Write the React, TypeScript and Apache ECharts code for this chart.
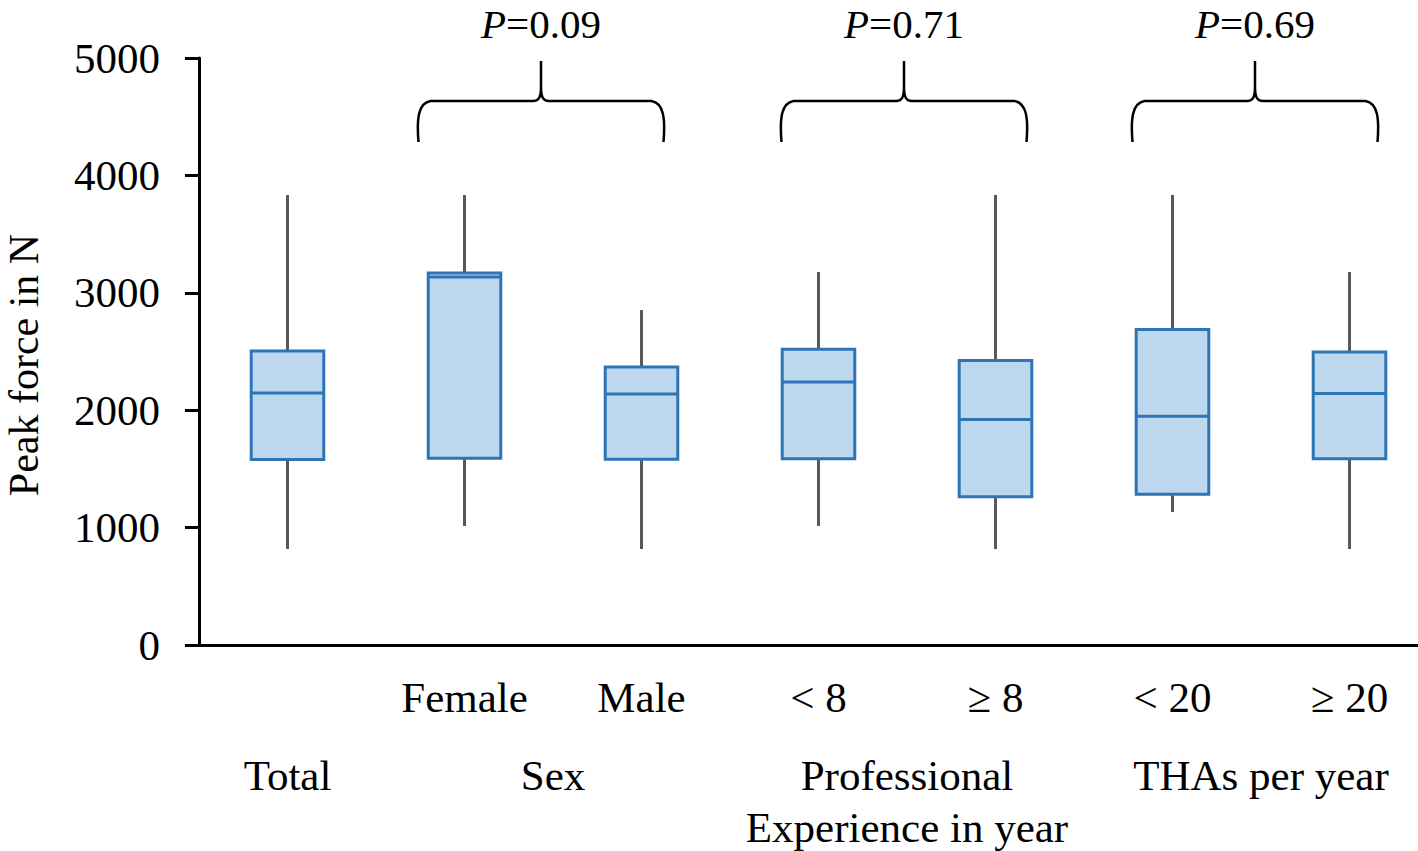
import React, { useEffect, useRef } from "react";
import * as echarts from "echarts";

// ---- data ----
const boxLabels = ["", "Female", "Male", "< 8", "≥ 8", "< 20", "≥ 20"];
const whiskerLow = [818, 1014, 818, 1014, 818, 1133, 818];
const quartile1 = [1580, 1591, 1583, 1586, 1262, 1285, 1586];
const medians = [2147, 3134, 2139, 2241, 1921, 1949, 2142];
const quartile3 = [2505, 3169, 2369, 2519, 2423, 2687, 2496];
const whiskerHigh = [3833, 3833, 2853, 3177, 3833, 3833, 3177];

const groupLabels = ["Total", "Sex", "Professional\nExperience in year", "THAs per year"];
const groupFirst = [0, 1, 3, 5];
const groupLast = [0, 2, 4, 6];
const pValues = ["", "0.09", "0.71", "0.69"];

const yMin = 0;
const yMax = 5000;
const yInterval = 1000;
const yTitle = "Peak force in N";

// ---- layout / style ----
const FONT = "'Times New Roman', 'Liberation Serif', serif";
const FS = 43;
const PFS = 41;
const braceShift = [0, -12, -3, -6];

export default function App() {
  const ref = useRef<HTMLDivElement>(null);

  useEffect(() => {
    if (!ref.current) return;
    const chart = echarts.init(ref.current, null, { renderer: "svg" });

    const boxData = boxLabels.map((_, i) => [
      i,
      whiskerLow[i],
      quartile1[i],
      medians[i],
      quartile3[i],
      whiskerHigh[i],
    ]);
    const groupData = groupFirst.map((f, i) => [f, groupLast[i]]);

    const option: any = {
      animation: false,
      grid: { left: 199, top: 58, width: 1239, height: 587, outerBoundsMode: "none", containLabel: false },
      graphic: [
        {
          type: "text",
          x: 23.5,
          y: 365,
          rotation: Math.PI / 2,
          style: {
            text: yTitle,
            align: "center",
            verticalAlign: "middle",
            fontSize: 42,
            fontFamily: FONT,
            fill: "#000",
          },
        },
      ],
      xAxis: {
        type: "category",
        data: boxLabels,
        boundaryGap: true,
        axisTick: { show: false },
        axisLine: { show: true, lineStyle: { color: "#000", width: 3 } },
        axisLabel: {
          interval: 0,
          margin: 31,
          color: "#000",
          fontSize: FS,
          fontFamily: FONT,
        },
        splitLine: { show: false },
      },
      yAxis: {
        type: "value",
        min: yMin,
        max: yMax,
        interval: yInterval,
        axisLine: { show: true, lineStyle: { color: "#000", width: 3 } },
        axisTick: { show: true, length: 14, lineStyle: { color: "#000", width: 3 } },
        axisLabel: {
          margin: 39,
          color: "#000",
          fontSize: FS,
          fontFamily: FONT,
          formatter: (v: number) => String(v),
        },
        splitLine: { show: false },
      },
      series: [
        {
          type: "custom",
          name: "boxes",
          data: boxData,
          encode: { x: 0, y: [1, 2, 3, 4, 5] },
          renderItem: (params: any, api: any) => {
            const x = api.value(0);
            const pMin = api.coord([x, api.value(1)]);
            const pQ1 = api.coord([x, api.value(2)]);
            const pMed = api.coord([x, api.value(3)]);
            const pQ3 = api.coord([x, api.value(4)]);
            const pMax = api.coord([x, api.value(5)]);
            const cx = pMed[0];
            const bw = api.size([1, 0])[0] * 0.41;
            return {
              type: "group",
              children: [
                {
                  type: "line",
                  shape: { x1: cx, y1: pMax[1], x2: cx, y2: pMin[1] },
                  style: { stroke: "#595959", lineWidth: 3 },
                },
                {
                  type: "rect",
                  shape: { x: cx - bw / 2, y: pQ3[1], width: bw, height: pQ1[1] - pQ3[1] },
                  style: { fill: "#bdd7ee", stroke: "#2e75b6", lineWidth: 3 },
                },
                {
                  type: "line",
                  shape: { x1: cx - bw / 2, y1: pMed[1], x2: cx + bw / 2, y2: pMed[1] },
                  style: { stroke: "#2e75b6", lineWidth: 3 },
                },
              ],
            };
          },
        },
        {
          type: "custom",
          name: "groups",
          data: groupData,
          encode: { x: [0, 1] },
          clip: false,
          renderItem: (params: any, api: any) => {
            const i = params.dataIndex;
            const first = api.value(0);
            const last = api.value(1);
            const p1 = api.coord([first, yMin]);
            const p2 = api.coord([last, yMin]);
            const axisY = p1[1];
            const topY = api.coord([first, yMax])[1];
            const cx = (p1[0] + p2[0]) / 2;
            const children: any[] = [
              {
                type: "text",
                style: {
                  text: groupLabels[i],
                  x: cx,
                  y: axisY + 104.5,
                  align: "center",
                  verticalAlign: "top",
                  lineHeight: 52,
                  fontSize: FS,
                  fontFamily: FONT,
                  fill: "#000",
                },
              },
            ];
            if (pValues[i]) {
              const bx = cx + braceShift[i];
              const half = (p2[0] - p1[0]) / 2 + 34;
              const L = bx - half;
              const R = bx + half;
              const T = topY + 3;
              const H = topY + 43;
              const B = topY + 84;
              const d =
                `M${L},${B} C${L - 2},${B - 24} ${L},${H + 2} ${L + 12},${H} ` +
                `L${bx - 8},${H} C${bx - 2},${H} ${bx},${H - 4} ${bx},${H - 14} L${bx},${T} ` +
                `M${bx},${H - 14} C${bx},${H - 4} ${bx + 2},${H} ${bx + 8},${H} ` +
                `L${R - 12},${H} C${R},${H + 2} ${R + 2},${B - 24} ${R},${B}`;
              children.push({
                type: "path",
                shape: { pathData: d },
                style: { fill: "none", stroke: "#000", lineWidth: 2.5 },
              });
              children.push({
                type: "text",
                style: {
                  text: "{i|P}=" + pValues[i],
                  x: bx,
                  y: topY - 34.5,
                  align: "center",
                  verticalAlign: "middle",
                  fontSize: PFS,
                  fontFamily: FONT,
                  fill: "#000",
                  rich: {
                    i: { fontStyle: "italic", fontSize: PFS, fontFamily: FONT, fill: "#000" },
                  },
                },
              });
            }
            return { type: "group", children };
          },
        },
      ],
    };

    chart.setOption(option);
    return () => chart.dispose();
  }, []);

  return (
    <div
      ref={ref}
      style={{ position: "absolute", left: 0, top: 0, width: 1418, height: 851, background: "#fff" }}
    />
  );
}
